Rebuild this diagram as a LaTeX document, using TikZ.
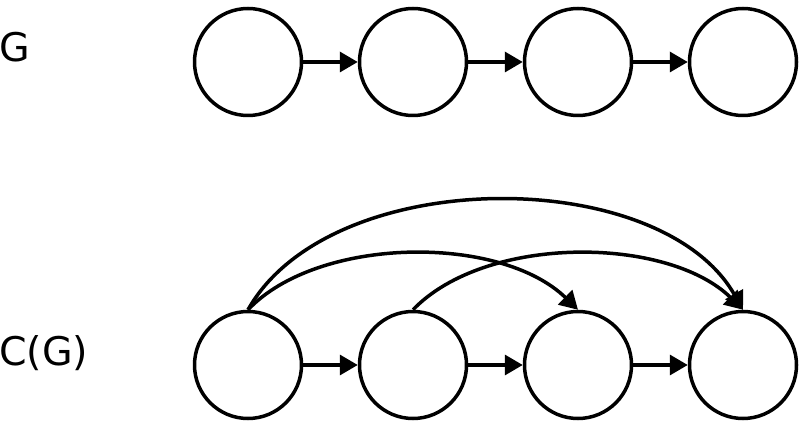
\documentclass[tikz,border=0pt]{standalone}
\usepackage{fontspec}
\setmainfont{DejaVu Sans}
\usetikzlibrary{arrows.meta}
\begin{document}
\begin{tikzpicture}[x=1pt,y=-1pt,
  vert/.style={circle,draw,line width=3.5pt,minimum size=107pt,inner sep=0pt},
  edge/.style={line width=3.5pt,-{Triangle[length=18pt,width=20pt]}},
  lbl/.style={anchor=base west,inner sep=0pt,font=\fontsize{39.5}{44}\selectfont}]
\useasboundingbox (0,0) rectangle (800,427);
\node[lbl] (lg) at (-1,62) {G};
\node[lbl] (lcg) at (-1,366) {C(G)};
\foreach \i/\x in {1/248,2/413,3/578,4/743}{
  \node[vert] (a\i) at (\x,62) {};
  \node[vert] (b\i) at (\x,365) {};
}
\draw[edge] (a1) -- (a2);
\draw[edge] (a2) -- (a3);
\draw[edge] (a3) -- (a4);
\draw[edge] (b1) -- (b2);
\draw[edge] (b2) -- (b3);
\draw[edge] (b3) -- (b4);
\draw[edge] (b1.north) .. controls (318,236) and (500,234) .. (b3.north);
\draw[edge] (b2.north) .. controls (486,234) and (668,236) .. (b4.north);
\draw[edge] (b1.north) .. controls (330,164) and (660,164) .. (b4.north);
\end{tikzpicture}
\end{document}
